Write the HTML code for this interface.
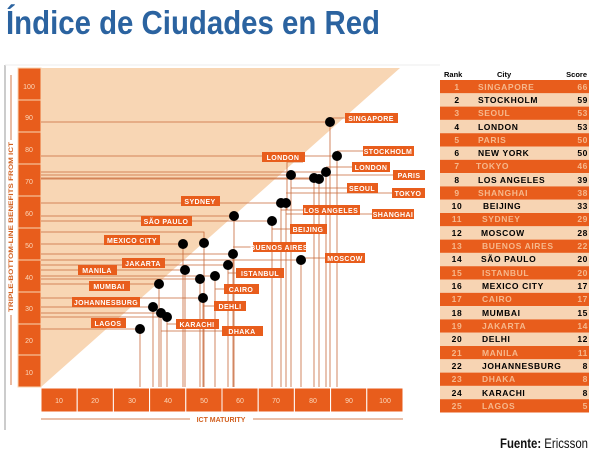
<!DOCTYPE html>
<html><head><meta charset="utf-8"><style>
html,body{margin:0;padding:0;background:#fff;width:600px;height:456px;overflow:hidden}
svg{display:block}
.t{font-family:"Liberation Sans",sans-serif;font-weight:bold;font-size:7px;fill:#fff;letter-spacing:0.4px}
.ax{font-family:"Liberation Sans",sans-serif;font-size:7px;fill:#fbd9bd}
.r{font-family:"Liberation Sans",sans-serif;font-weight:bold;font-size:8.5px;letter-spacing:0.6px}
</style></head><body>
<svg width="600" height="456" viewBox="0 0 600 456" xmlns="http://www.w3.org/2000/svg">
<text x="6" y="34" textLength="374" lengthAdjust="spacingAndGlyphs" font-family="'Liberation Sans Narrow','Liberation Sans',sans-serif" font-weight="bold" font-size="33" fill="#2b63a0">Índice de Ciudades en Red</text>
<line x1="5" y1="65" x2="5" y2="430" stroke="#bbb" stroke-width="1.5"/>
<line x1="5" y1="65" x2="440" y2="65" stroke="#eee" stroke-width="1"/>
<polygon points="41,68 400,68 41,387" fill="#f8d6b4"/>
<g fill="#e85d1c" stroke="#f8d6b4" stroke-width="1">
<rect x="18" y="68" width="23" height="32"/><rect x="18" y="100" width="23" height="32"/><rect x="18" y="132" width="23" height="32"/><rect x="18" y="164" width="23" height="32"/><rect x="18" y="196" width="23" height="32"/><rect x="18" y="228" width="23" height="32"/><rect x="18" y="260" width="23" height="32"/><rect x="18" y="292" width="23" height="32"/><rect x="18" y="324" width="23" height="31"/><rect x="18" y="355" width="23" height="32"/>
</g>
<g class="ax" text-anchor="middle">
<text x="29" y="89">100</text><text x="29" y="120">90</text><text x="29" y="152">80</text><text x="29" y="184">70</text><text x="29" y="216">60</text><text x="29" y="248">50</text><text x="29" y="280">40</text><text x="29" y="311">30</text><text x="29" y="343">20</text><text x="29" y="375">10</text>
</g>
<g fill="#e85d1c" stroke="#fff" stroke-width="1">
<rect x="41" y="388" width="36.2" height="24"/><rect x="77.2" y="388" width="36.2" height="24"/><rect x="113.4" y="388" width="36.2" height="24"/><rect x="149.6" y="388" width="36.2" height="24"/><rect x="185.8" y="388" width="36.2" height="24"/><rect x="222" y="388" width="36.2" height="24"/><rect x="258.2" y="388" width="36.2" height="24"/><rect x="294.4" y="388" width="36.2" height="24"/><rect x="330.6" y="388" width="36.2" height="24"/><rect x="366.8" y="388" width="36.2" height="24"/>
</g>
<g class="ax" text-anchor="middle">
<text x="59" y="403">10</text><text x="95" y="403">20</text><text x="132" y="403">30</text><text x="168" y="403">40</text><text x="204" y="403">50</text><text x="240" y="403">60</text><text x="276" y="403">70</text><text x="313" y="403">80</text><text x="349" y="403">90</text><text x="385" y="403">100</text>
</g>
<line x1="41" y1="419" x2="190" y2="419" stroke="#c8581c" stroke-width="0.8"/>
<line x1="253" y1="419" x2="403" y2="419" stroke="#c8581c" stroke-width="0.8"/>
<text x="221" y="422" text-anchor="middle" font-family="'Liberation Sans',sans-serif" font-weight="bold" font-size="7" fill="#d2601f">ICT MATURITY</text>
<line x1="11" y1="75" x2="11" y2="140" stroke="#c8581c" stroke-width="0.8"/>
<line x1="11" y1="315" x2="11" y2="385" stroke="#c8581c" stroke-width="0.8"/>
<text transform="translate(13,312) rotate(-90)" font-family="'Liberation Sans',sans-serif" font-weight="bold" font-size="6.3" fill="#d2601f" textLength="170" lengthAdjust="spacingAndGlyphs">TRIPLE-BOTTOM-LINE BENEFITS FROM ICT</text>
<g stroke="#c8693a" stroke-width="0.8" fill="none">
<path d="M330 122V387M41 122H330M337 156V387M41 156H337M326 172V387M41 172H326M314 178V387M41 178H314M319 179V387M41 179H319M291 175V387M41 175H291M281 203V387M41 203H281M286 203V387M234 216V387M41 216H234M272 221V387M41 221H272M233 254V387M41 254H233M301 260V387M41 260H301M183 244V387M41 244H183M204 243V387M41 232H204V243M185 270V387M41 270H185M200 279V387M41 279H200M215 276V387M41 276H215M228 265V387M41 265H228M159 284V387M41 284H159M203 298V387M41 298H203M153 307V387M41 307H153M161 313V387M41 313H161M167 317V387M41 317H167M140 329V387M41 329H140"/>
<path d="M303 162H287V210M345 118H330M363 151H337M352 167H326M393 175H319M347 188H291M392 193H286M303 210H281M372 214H286M290 229H272M253 247H233M325 258H301M236 273H228M224 289H215M214 306H203M176 324H167M222 331H161"/>
</g>
<g fill="#000">
<circle cx="330" cy="122" r="5"/><circle cx="337" cy="156" r="5"/><circle cx="326" cy="172" r="5"/><circle cx="314" cy="178" r="5"/><circle cx="319" cy="179" r="5"/><circle cx="291" cy="175" r="5"/><circle cx="281" cy="203" r="5"/><circle cx="286" cy="203" r="5"/><circle cx="234" cy="216" r="5"/><circle cx="272" cy="221" r="5"/><circle cx="233" cy="254" r="5"/><circle cx="301" cy="260" r="5"/><circle cx="183" cy="244" r="5"/><circle cx="204" cy="243" r="5"/><circle cx="185" cy="270" r="5"/><circle cx="200" cy="279" r="5"/><circle cx="215" cy="276" r="5"/><circle cx="228" cy="265" r="5"/><circle cx="159" cy="284" r="5"/><circle cx="203" cy="298" r="5"/><circle cx="153" cy="307" r="5"/><circle cx="161" cy="313" r="5"/><circle cx="167" cy="317" r="5"/><circle cx="140" cy="329" r="5"/>
</g>
<g fill="#e85d1c">
<rect x="345" y="113" width="53" height="10"/><rect x="363" y="146" width="51" height="10"/><rect x="352" y="162" width="38" height="10"/><rect x="393" y="170" width="32" height="10"/><rect x="347" y="183" width="31" height="10"/><rect x="392" y="188" width="33" height="10"/><rect x="303" y="205" width="57" height="10"/><rect x="372" y="209" width="42" height="10"/><rect x="290" y="224" width="37" height="10"/><rect x="253" y="242" width="53" height="10"/><rect x="325" y="253" width="40" height="10"/><rect x="262" y="152" width="43" height="10"/><rect x="181" y="196" width="39" height="10"/><rect x="141" y="216" width="51" height="10"/><rect x="104" y="235" width="56" height="10"/><rect x="122" y="258" width="43" height="10"/><rect x="78" y="265" width="39" height="10"/><rect x="89" y="281" width="41" height="10"/><rect x="72" y="297" width="68" height="10"/><rect x="91" y="318" width="35" height="10"/><rect x="236" y="268" width="48" height="10"/><rect x="224" y="284" width="35" height="10"/><rect x="214" y="301" width="32" height="10"/><rect x="176" y="319" width="43" height="10"/><rect x="222" y="326" width="41" height="10"/>
</g>
<g class="t" text-anchor="middle">
<text x="371" y="121">SINGAPORE</text><text x="388" y="154">STOCKHOLM</text><text x="371" y="170">LONDON</text><text x="409" y="178">PARIS</text><text x="362" y="191">SEOUL</text><text x="408" y="196">TOKYO</text><text x="331" y="213">LOS ANGELES</text><text x="393" y="217">SHANGHAI</text><text x="308" y="232">BEIJING</text><text x="279" y="250">BUENOS AIRES</text><text x="345" y="261">MOSCOW</text><text x="283" y="160">LONDON</text><text x="200" y="204">SYDNEY</text><text x="166" y="224">SÃO PAULO</text><text x="132" y="243">MEXICO CITY</text><text x="143" y="266">JAKARTA</text><text x="97" y="273">MANILA</text><text x="109" y="289">MUMBAI</text><text x="106" y="305">JOHANNESBURG</text><text x="108" y="326">LAGOS</text><text x="260" y="276">ISTANBUL</text><text x="241" y="292">CAIRO</text><text x="230" y="309">DEHLI</text><text x="197" y="327">KARACHI</text><text x="242" y="334">DHAKA</text>
</g>
<g font-family="'Liberation Sans',sans-serif" font-weight="bold" font-size="7.5" fill="#000">
<text x="444" y="77">Rank</text><text x="497" y="77">City</text><text x="587" y="77" text-anchor="end">Score</text>
</g>
<g>
<rect x="440" y="80" width="149" height="13.3" fill="#e85d1c"/><rect x="440" y="93.3" width="149" height="13.3" fill="#f7d4b3"/>
<rect x="440" y="106.6" width="149" height="13.3" fill="#e85d1c"/><rect x="440" y="119.9" width="149" height="13.3" fill="#f7d4b3"/>
<rect x="440" y="133.2" width="149" height="13.3" fill="#e85d1c"/><rect x="440" y="146.5" width="149" height="13.3" fill="#f7d4b3"/>
<rect x="440" y="159.8" width="149" height="13.3" fill="#e85d1c"/><rect x="440" y="173.1" width="149" height="13.3" fill="#f7d4b3"/>
<rect x="440" y="186.4" width="149" height="13.3" fill="#e85d1c"/><rect x="440" y="199.7" width="149" height="13.3" fill="#f7d4b3"/>
<rect x="440" y="213" width="149" height="13.3" fill="#e85d1c"/><rect x="440" y="226.3" width="149" height="13.3" fill="#f7d4b3"/>
<rect x="440" y="239.6" width="149" height="13.3" fill="#e85d1c"/><rect x="440" y="252.9" width="149" height="13.3" fill="#f7d4b3"/>
<rect x="440" y="266.2" width="149" height="13.3" fill="#e85d1c"/><rect x="440" y="279.5" width="149" height="13.3" fill="#f7d4b3"/>
<rect x="440" y="292.8" width="149" height="13.3" fill="#e85d1c"/><rect x="440" y="306.1" width="149" height="13.3" fill="#f7d4b3"/>
<rect x="440" y="319.4" width="149" height="13.3" fill="#e85d1c"/><rect x="440" y="332.7" width="149" height="13.3" fill="#f7d4b3"/>
<rect x="440" y="346" width="149" height="13.3" fill="#e85d1c"/><rect x="440" y="359.3" width="149" height="13.3" fill="#f7d4b3"/>
<rect x="440" y="372.6" width="149" height="13.3" fill="#e85d1c"/><rect x="440" y="385.9" width="149" height="13.3" fill="#f7d4b3"/>
<rect x="440" y="399.2" width="149" height="13.3" fill="#e85d1c"/>
</g>
<g class="r" fill="#f6b88c">
<text x="457" y="90" text-anchor="middle">1</text><text x="478" y="90">SINGAPORE</text><text x="588" y="90" text-anchor="end">66</text>
<text x="457" y="116" text-anchor="middle">3</text><text x="478" y="116">SEOUL</text><text x="588" y="116" text-anchor="end">53</text>
<text x="457" y="143" text-anchor="middle">5</text><text x="478" y="143">PARIS</text><text x="588" y="143" text-anchor="end">50</text>
<text x="457" y="169" text-anchor="middle">7</text><text x="476" y="169">TOKYO</text><text x="588" y="169" text-anchor="end">46</text>
<text x="457" y="196" text-anchor="middle">9</text><text x="478" y="196">SHANGHAI</text><text x="588" y="196" text-anchor="end">38</text>
<text x="457" y="222" text-anchor="middle">11</text><text x="482" y="222">SYDNEY</text><text x="588" y="222" text-anchor="end">29</text>
<text x="457" y="249" text-anchor="middle">13</text><text x="482" y="249">BUENOS AIRES</text><text x="588" y="249" text-anchor="end">22</text>
<text x="457" y="276" text-anchor="middle">15</text><text x="482" y="276">ISTANBUL</text><text x="588" y="276" text-anchor="end">20</text>
<text x="457" y="302" text-anchor="middle">17</text><text x="482" y="302">CAIRO</text><text x="588" y="302" text-anchor="end">17</text>
<text x="457" y="329" text-anchor="middle">19</text><text x="482" y="329">JAKARTA</text><text x="588" y="329" text-anchor="end">14</text>
<text x="457" y="356" text-anchor="middle">21</text><text x="482" y="356">MANILA</text><text x="588" y="356" text-anchor="end">11</text>
<text x="457" y="382" text-anchor="middle">23</text><text x="482" y="382">DHAKA</text><text x="588" y="382" text-anchor="end">8</text>
<text x="457" y="409" text-anchor="middle">25</text><text x="482" y="409">LAGOS</text><text x="588" y="409" text-anchor="end">5</text>
</g>
<g class="r" fill="#000">
<text x="457" y="103" text-anchor="middle">2</text><text x="478" y="103">STOCKHOLM</text><text x="588" y="103" text-anchor="end">59</text>
<text x="457" y="130" text-anchor="middle">4</text><text x="478" y="130">LONDON</text><text x="588" y="130" text-anchor="end">53</text>
<text x="457" y="156" text-anchor="middle">6</text><text x="478" y="156">NEW YORK</text><text x="588" y="156" text-anchor="end">50</text>
<text x="457" y="183" text-anchor="middle">8</text><text x="478" y="183">LOS ANGELES</text><text x="588" y="183" text-anchor="end">39</text>
<text x="457" y="209" text-anchor="middle">10</text><text x="483" y="209">BEIJING</text><text x="588" y="209" text-anchor="end">33</text>
<text x="457" y="236" text-anchor="middle">12</text><text x="481" y="236">MOSCOW</text><text x="588" y="236" text-anchor="end">28</text>
<text x="457" y="262" text-anchor="middle">14</text><text x="481" y="262">SÃO PAULO</text><text x="588" y="262" text-anchor="end">20</text>
<text x="457" y="289" text-anchor="middle">16</text><text x="482" y="289">MEXICO CITY</text><text x="588" y="289" text-anchor="end">17</text>
<text x="457" y="316" text-anchor="middle">18</text><text x="482" y="316">MUMBAI</text><text x="588" y="316" text-anchor="end">15</text>
<text x="457" y="342" text-anchor="middle">20</text><text x="482" y="342">DELHI</text><text x="588" y="342" text-anchor="end">12</text>
<text x="457" y="369" text-anchor="middle">22</text><text x="482" y="369">JOHANNESBURG</text><text x="588" y="369" text-anchor="end">8</text>
<text x="457" y="396" text-anchor="middle">24</text><text x="482" y="396">KARACHI</text><text x="588" y="396" text-anchor="end">8</text>
</g>
<text x="500" y="448" textLength="88" lengthAdjust="spacingAndGlyphs" font-family="'Liberation Sans',sans-serif" font-size="14" fill="#111"><tspan font-weight="bold">Fuente:</tspan> Ericsson</text>
</svg>
</body></html>
